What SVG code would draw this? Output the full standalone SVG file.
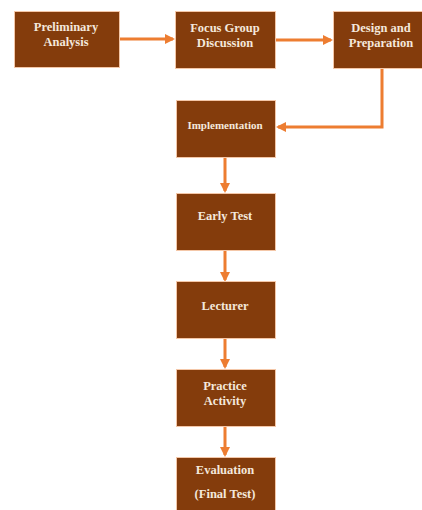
<svg xmlns="http://www.w3.org/2000/svg" width="422" height="510" viewBox="0 0 422 510">
<defs>
<style>
.box{fill:#843C0C;stroke:#F4C7A8;stroke-width:1}
.t{font-family:"Liberation Serif","Times New Roman",serif;font-weight:bold;font-size:12.5px;fill:#F4E8DC;text-anchor:middle}
.s{font-size:11px}
.c{fill:none;stroke:#ED7D31;stroke-width:3}
</style>
<marker id="ah" markerWidth="10" markerHeight="10" refX="8" refY="5" orient="auto" markerUnits="userSpaceOnUse">
<path d="M0,0 L10,5 L0,10 Z" fill="#ED7D31"/>
</marker>
</defs>
<rect width="422" height="510" fill="#ffffff"/>
<g id="connectors">
<line class="c" x1="119" y1="39" x2="173" y2="39" marker-end="url(#ah)"/>
<line class="c" x1="276" y1="40" x2="331" y2="40" marker-end="url(#ah)"/>
<polyline class="c" points="382,68 382,127 278,127" marker-end="url(#ah)"/>
<line class="c" x1="225" y1="157" x2="225" y2="191" marker-end="url(#ah)"/>
<line class="c" x1="225" y1="250" x2="225" y2="280" marker-end="url(#ah)"/>
<line class="c" x1="225" y1="338" x2="225" y2="367" marker-end="url(#ah)"/>
<line class="c" x1="225" y1="426" x2="225" y2="455" marker-end="url(#ah)"/>
</g>
<g id="preliminary"><rect class="box" x="14.5" y="11.5" width="105" height="56"/><text class="t" x="66" y="31">Preliminary</text><text class="t" x="66" y="46">Analysis</text></g>
<g id="focus"><rect class="box" x="175.5" y="11.5" width="100" height="57"/><text class="t" x="225" y="32">Focus Group</text><text class="t" x="225" y="47">Discussion</text></g>
<g id="design"><rect class="box" x="333.5" y="11.5" width="90" height="57"/><text class="t" x="381" y="32">Design and</text><text class="t" x="381" y="47">Preparation</text></g>
<g id="implementation"><rect class="box" x="176.5" y="100.5" width="99" height="57"/><text class="t s" x="225" y="129">Implementation</text></g>
<g id="early"><rect class="box" x="176.5" y="193.5" width="99" height="57"/><text class="t" x="225" y="220">Early Test</text></g>
<g id="lecturer"><rect class="box" x="176.5" y="281.5" width="99" height="57"/><text class="t" x="225" y="310">Lecturer</text></g>
<g id="practice"><rect class="box" x="176.5" y="369.5" width="99" height="57"/><text class="t" x="225" y="390">Practice</text><text class="t" x="225" y="405">Activity</text></g>
<g id="evaluation"><rect class="box" x="176.5" y="457.5" width="99" height="60"/><text class="t" x="225" y="474">Evaluation</text><text class="t" x="225" y="498">(Final Test)</text></g>
</svg>
